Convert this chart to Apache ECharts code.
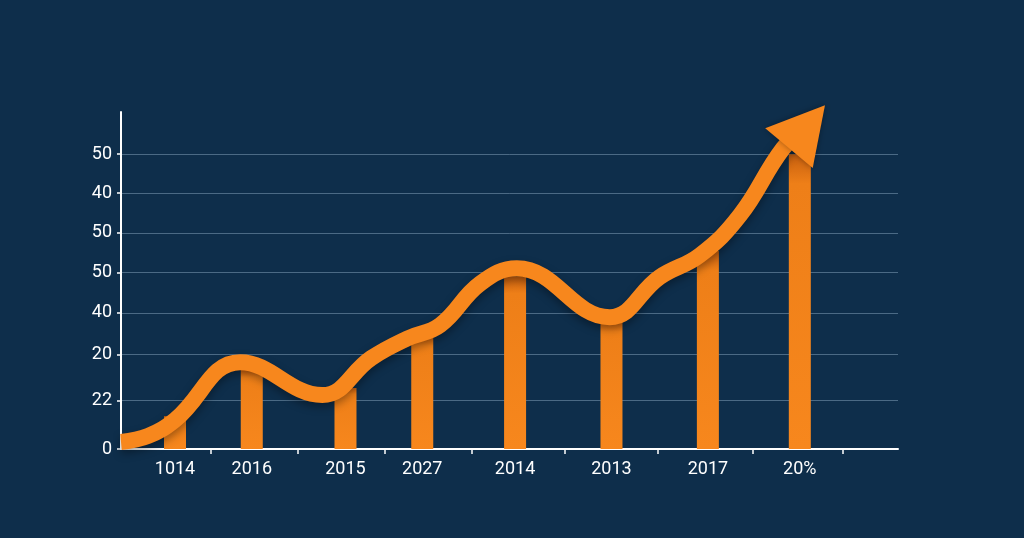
<!DOCTYPE html>
<html>
<head>
<meta charset="utf-8">
<script src="https://cdn.jsdelivr.net/npm/echarts@6/dist/echarts.min.js"></script>
<style>
  html, body { margin: 0; padding: 0; background: #0e2e4b; }
  #main { width: 1024px; height: 538px; }
</style>
</head>
<body>
<div id="main"></div>
<script>
// x axis labels (as printed) and where each bar sits on the x scale
var categories = ['1014', '2016', '2015', '2027', '2014', '2013', '2017', '20%'];
var barX = [0, 0.86, 1.91, 2.77, 3.81, 4.89, 5.97, 7.0];
var barValues = [0.78, 1.9, 1.45, 2.72, 4.1, 3.1, 4.7, 7.0];
var xTickVals = [0.4, 1.38, 2.35, 3.33, 4.37, 5.41, 6.47, 7.48];

// y axis labels (as printed, bottom to top) and their values
var yLabels = ['0', '22', '20', '40', '50', '50', '40', '50'];
var yTickVals = [0, 1.15, 2.24, 3.23, 4.19, 5.13, 6.07, 7];

// trend curve points [x, y], last one is the arrow head
var trendX = [-0.605, -0.30, 0, 0.73, 1.65, 2.20, 2.60, 2.97, 3.42, 3.83, 4.87, 5.43, 5.88, 6.33, 6.81, 7.08];
var trendY = [0.166, 0.31, 0.69, 2.06, 1.28, 2.16, 2.62, 2.94, 3.93, 4.29, 3.13, 4.08, 4.60, 5.55, 7.13, 7.65];

var orange = '#f7871d';

var trendData = trendX.map(function (x, i) {
  var p = { value: [x, trendY[i]] };
  if (i === trendX.length - 1) {
    p.symbol = 'triangle';
    p.symbolSize = [62, 56];
    p.symbolRotate = -40;
  }
  return p;
});

var chart = echarts.init(document.getElementById('main'));
chart.setOption({
  backgroundColor: '#0e2e4b',
  animation: false,
  grid: [
    { left: 121, right: 126, top: 112, bottom: 89 },
    { left: 121, right: 126, top: 154, bottom: 89 }
  ],
  xAxis: [
    {
      gridIndex: 0, type: 'value', min: -0.605, max: 8.1,
      splitLine: { show: false },
      axisLine: { show: true, onZero: false, lineStyle: { color: '#ffffff', width: 2 } },
      axisTick: { show: true, customValues: xTickVals, length: 5,
                  lineStyle: { color: '#ffffff', width: 1.5 } },
      axisLabel: {
        customValues: barX, color: '#ffffff', fontSize: 18, margin: 11,
        fontFamily: 'Roboto, sans-serif',
        formatter: function (v) { return categories[barX.indexOf(v)]; }
      }
    },
    {
      gridIndex: 1, type: 'value', min: -0.605, max: 8.1, show: false
    }
  ],
  yAxis: [
    {
      gridIndex: 0, type: 'value', min: 0, max: 8,
      splitLine: { show: false },
      axisLine: { show: true, onZero: false, lineStyle: { color: '#ffffff', width: 2 } },
      axisTick: { show: false },
      axisLabel: { show: false }
    },
    {
      gridIndex: 1, type: 'value', min: 0, max: 7,
      axisLine: { show: false, onZero: false },
      axisTick: { show: true, customValues: yTickVals, length: 4,
                  lineStyle: { color: '#ffffff', width: 1.5 } },
      splitLine: { show: true, lineStyle: { color: 'rgba(150,180,205,0.45)', width: 1 } },
      axisLabel: {
        customValues: yTickVals, color: '#ffffff', fontSize: 18, margin: 9,
        fontFamily: 'Roboto, sans-serif',
        formatter: function (v) { return yLabels[yTickVals.indexOf(v)]; }
      }
    }
  ],
  series: [
    {
      type: 'bar',
      xAxisIndex: 0, yAxisIndex: 0,
      barWidth: 22,
      data: barX.map(function (x, i) { return [x, barValues[i]]; }),
      itemStyle: {
        color: new echarts.graphic.LinearGradient(0, 0, 0, 1, [
          { offset: 0, color: '#c8600f' },
          { offset: 0.1, color: '#ee7f18' },
          { offset: 1, color: orange }
        ])
      },
      z: 2
    },
    {
      type: 'line',
      xAxisIndex: 0, yAxisIndex: 0,
      smooth: 0.42,
      clip: false,
      symbol: 'none',
      showSymbol: true,
      data: trendData,
      lineStyle: {
        color: orange, width: 16, cap: 'butt',
        shadowColor: 'rgba(0,0,0,0.35)', shadowBlur: 8, shadowOffsetY: 4
      },
      itemStyle: { color: orange, shadowColor: 'rgba(0,0,0,0.35)', shadowBlur: 6 },
      z: 3
    }
  ]
});
</script>
</body>
</html>
